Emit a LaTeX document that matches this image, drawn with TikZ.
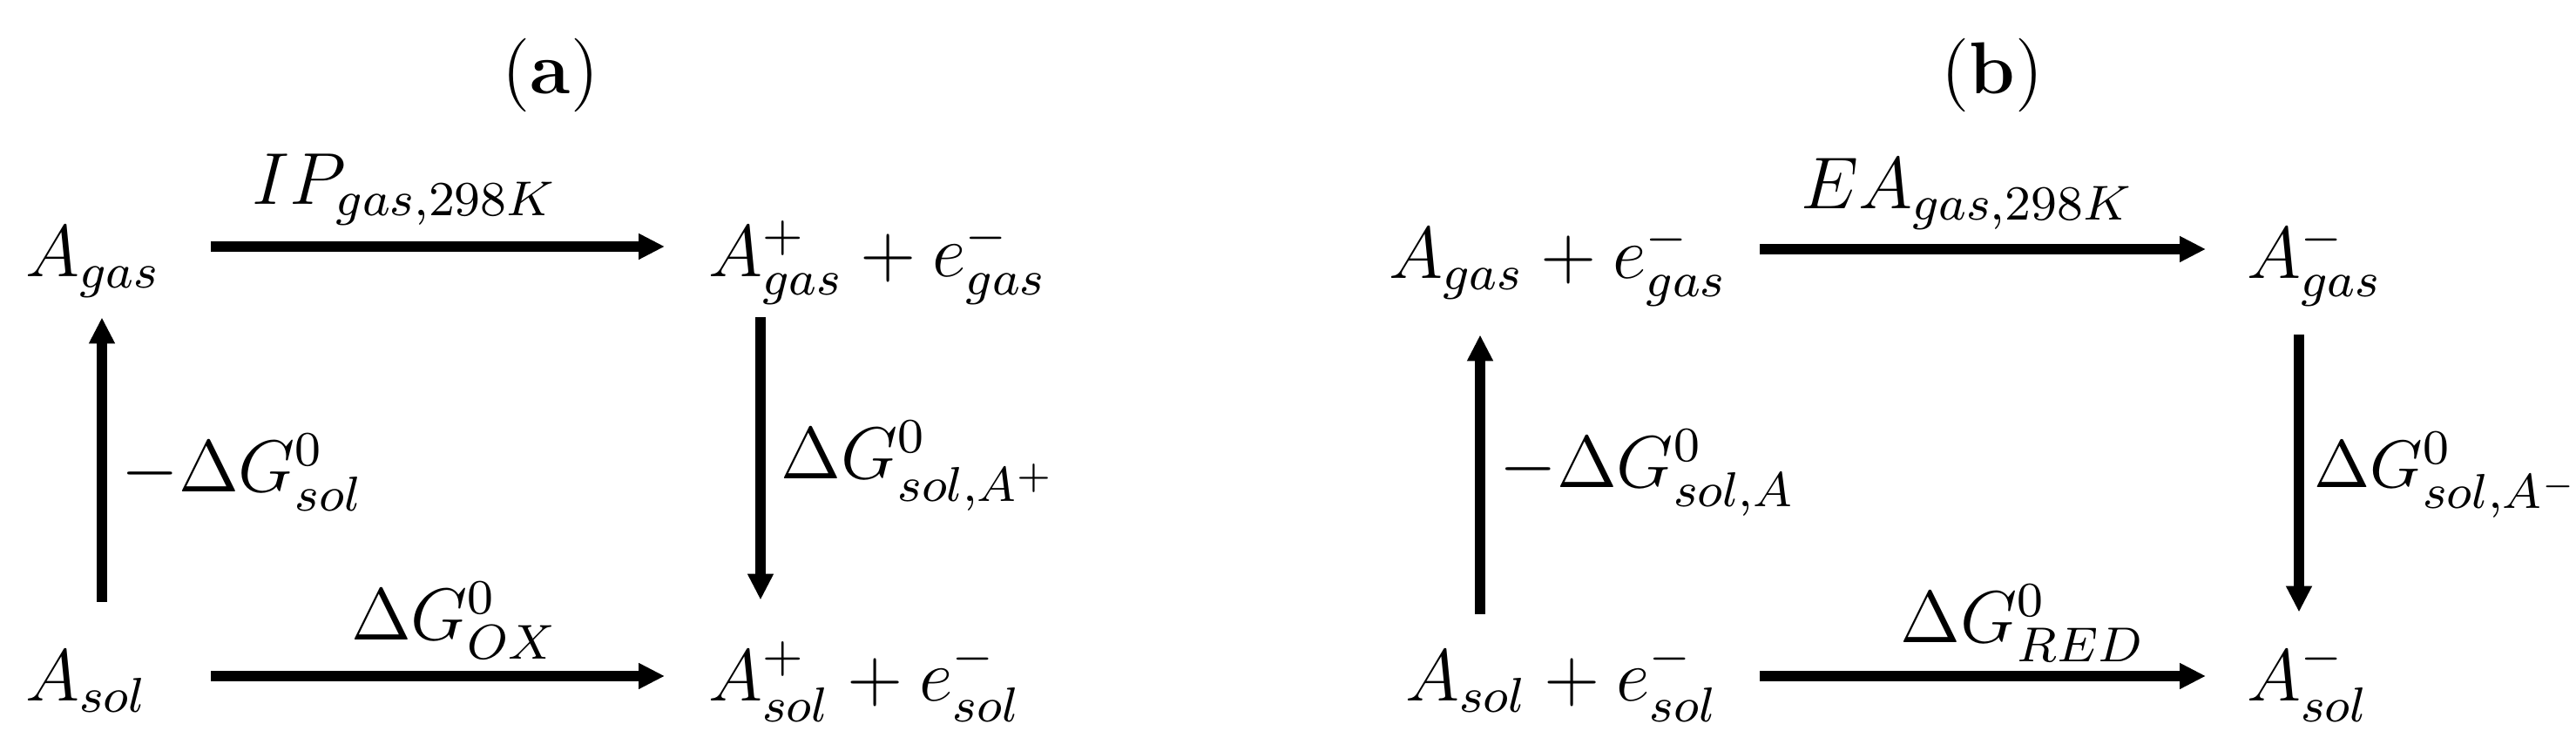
\documentclass[tikz,border=0pt]{standalone}
\usepackage{amsmath}
\usetikzlibrary{arrows.meta}

\begin{document}
\begin{tikzpicture}[
  every node/.style={inner sep=0pt,font=\fontsize{12}{14}\selectfont},
  spec/.style={anchor=base west,text height=3mm,text depth=1.3mm},
  lbl/.style={anchor=base west},
  flow/.style={line width=1.7pt,-{Triangle[length=1.5mm,width=1.4mm]}}
  ]
  \useasboundingbox (0,0) rectangle (14.785,4.31);
  % (a) oxidation cycle
  \node (ta) at (3.16,3.77) [anchor=base] {(\textbf{a})};
  \node (Agas) at (0.14,2.72) [spec] {$A_{gas}$};
  \node (Aionp) at (4.06,2.72) [spec] {$A^{+}_{gas}+e^{-}_{gas}$};
  \node (Asol) at (0.14,0.285) [spec] {$A_{sol}$};
  \node (Aions) at (4.06,0.285) [spec] {$A^{+}_{sol}+e^{-}_{sol}$};
  \node (IP) at (2.3225,3.135) [anchor=base] {$IP_{gas,298K}$};
  \node (Gox) at (2.61,0.635) [anchor=base] {$\Delta G^{0}_{OX}$};
  \node (GsolA) at (0.69,1.485) [lbl] {$-\Delta G^{0}_{sol}$};
  \node (Gsolp) at (4.475,1.56) [lbl] {$\Delta G^{0}_{sol,A^{+}}$};
  \draw[flow] ([shift={(1.07,0.175)}]Agas.base west) -- ([shift={(-0.245,0.175)}]Aionp.base west);
  \draw[flow] ([shift={(0.305,-0.095)}]Aionp.south west) -- ([shift={(0.305,0.275)}]Aions.north west);
  \draw[flow] ([shift={(0.445,0.265)}]Asol.north west) -- ([shift={(0.445,-0.095)}]Agas.south west);
  \draw[flow] ([shift={(1.07,0.145)}]Asol.base west) -- ([shift={(-0.245,0.145)}]Aions.base west);
  % (b) reduction cycle
  \node (tb) at (11.435,3.77) [anchor=base] {(\textbf{b})};
  \node (AgasB) at (7.965,2.71) [spec] {$A_{gas}+e^{-}_{gas}$};
  \node (AanG) at (12.89,2.71) [spec] {$A^{-}_{gas}$};
  \node (AsolB) at (8.06,0.285) [spec] {$A_{sol}+e^{-}_{sol}$};
  \node (AanS) at (12.89,0.285) [spec] {$A^{-}_{sol}$};
  \node (EA) at (11.29,3.11) [anchor=base] {$EA_{gas,298K}$};
  \node (Gred) at (11.61,0.62) [anchor=base] {$\Delta G^{0}_{RED}$};
  \node (GsolB) at (8.6,1.51) [lbl] {$-\Delta G^{0}_{sol,A}$};
  \node (Gsolm) at (13.275,1.51) [lbl,font=\fontsize{11}{14}\selectfont] {$\Delta G^{0}_{sol,A^{-}}$};
  \draw[flow] ([shift={(2.135,0.17)}]AgasB.base west) -- ([shift={(-0.23,0.17)}]AanG.base west);
  \draw[flow] ([shift={(0.305,-0.185)}]AanG.south west) -- ([shift={(0.305,0.205)}]AanS.north west);
  \draw[flow] ([shift={(0.435,0.195)}]AsolB.north west) -- ([shift={(0.53,-0.185)}]AgasB.south west);
  \draw[flow] ([shift={(2.04,0.145)}]AsolB.base west) -- ([shift={(-0.23,0.145)}]AanS.base west);
\end{tikzpicture}
\end{document}
